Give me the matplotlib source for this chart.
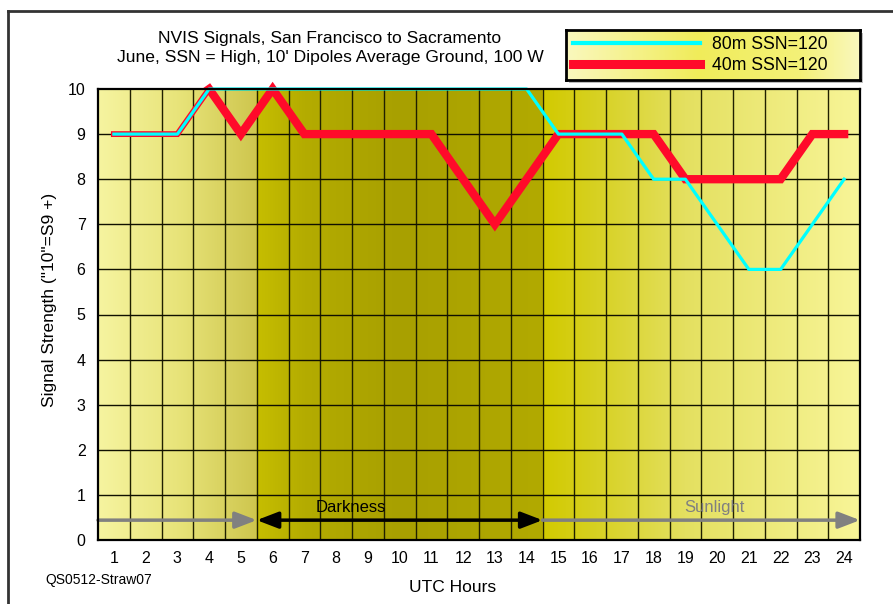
import numpy as np
import matplotlib
matplotlib.use("Agg")
import matplotlib.pyplot as plt
from matplotlib.patches import Rectangle
from matplotlib.lines import Line2D

plt.rcParams['font.family'] = ['Liberation Sans', 'DejaVu Sans']

hours = list(range(1, 25))
sig_80m = [9, 9, 9, 10, 10, 10, 10, 10, 10, 10, 10, 10, 10, 10, 9, 9, 9, 8, 8, 7, 6, 6, 7, 8]
sig_40m = [9, 9, 9, 10, 9, 10, 9, 9, 9, 9, 9, 8, 7, 8, 9, 9, 9, 9, 8, 8, 8, 8, 9, 9]
label_80m = "80m SSN=120"
label_40m = "40m SSN=120"
dark_start, dark_end = 5.5, 14.5
title = "NVIS Signals, San Francisco to Sacramento\nJune, SSN = High, 10' Dipoles Average Ground, 100 W"

W, H = 893, 604
fig = plt.figure(figsize=(W / 100, H / 100), dpi=100)
fig.patch.set_facecolor('white')

ax = fig.add_axes([98 / W, 1 - 540 / H, (860 - 98) / W, (540 - 89) / H])
ax.set_xlim(0.5, 24.5)
ax.set_ylim(0, 10)

# background gradient
stops_x = [0.5, 3.0, 5.499, 5.501, 7.0, 10.0, 14.499, 14.501, 16.0, 19.0, 24.5]
stops_c = np.array([
    (246, 244, 160), (232, 228, 122), (206, 198, 78),
    (198, 190, 0), (180, 172, 0), (168, 160, 0), (178, 170, 0),
    (210, 202, 0), (214, 208, 30), (228, 224, 96), (248, 245, 152)]) / 255.0
xs = np.linspace(0.5, 24.5, 1200)
img = np.stack([np.interp(xs, stops_x, stops_c[:, i]) for i in range(3)], axis=-1)
img = img[np.newaxis, :, :]
ax.imshow(img, extent=[0.5, 24.5, 0, 10], aspect='auto', zorder=0, interpolation='bilinear')

# grid
for xv in np.arange(1.5, 24.5, 1.0):
    ax.axvline(xv, color='#202000', lw=1.0, zorder=1)
for yv in range(1, 10):
    ax.axhline(yv, color='#101000', lw=1.0, zorder=1)

# arrows
ay = 0.44
ax.annotate('', xy=(dark_start, ay), xytext=(0.5, ay),
            arrowprops=dict(arrowstyle='-|>,head_length=1.3,head_width=0.5', color='#808080', lw=2.5,
                            shrinkA=0, shrinkB=0), zorder=3)
ax.annotate('', xy=(dark_end, ay), xytext=(dark_start, ay),
            arrowprops=dict(arrowstyle='<|-|>,head_length=1.3,head_width=0.5', color='#000000', lw=2.5,
                            shrinkA=0, shrinkB=0), zorder=3)
ax.annotate('', xy=(24.5, ay), xytext=(dark_end, ay),
            arrowprops=dict(arrowstyle='-|>,head_length=1.3,head_width=0.5', color='#808080', lw=2.5,
                            shrinkA=0, shrinkB=0), zorder=3)
ax.text(8.47, 0.71, "Darkness", ha='center', va='center', fontsize=12, color='#000000', zorder=4)
ax.text(19.93, 0.71, "Sunlight", ha='center', va='center', fontsize=12, color='#808080', zorder=4)

# data lines
ax.plot(hours[:4], sig_40m[:4], color='#ff0a2a', lw=4.2, solid_joinstyle='miter', clip_on=False, zorder=5)
ax.plot(hours[3:], sig_40m[3:], color='#ff0a2a', lw=6.0, solid_joinstyle='miter', clip_on=False, zorder=5)
ax.plot(hours, sig_80m, color='#00ffff', lw=2.3, clip_on=False, zorder=6)

ax.set_xticks(hours)
ax.set_xticklabels([str(h) for h in hours], fontsize=11.5)
ax.set_yticks(range(0, 11))
ax.set_yticklabels([str(v) for v in range(0, 11)], fontsize=11.5)
ax.tick_params(length=0)
ax.tick_params(axis='x', pad=8)
ax.tick_params(axis='y', pad=9)
for s in ax.spines.values():
    s.set_linewidth(1.6)
    s.set_color('black')
    s.set_zorder(7)

fig.text(50 / W, 1 - 300 / H, 'Signal Strength ("10"=S9 +)', rotation=90, ha='center', va='center', fontsize=12.5)
fig.text(453 / W, 1 - 587 / H, "UTC Hours", ha='center', va='center', fontsize=12.5)
fig.text(45 / W, 1 - 580 / H, "QS0512-Straw07", ha='left', va='center', fontsize=10)
fig.text(330 / W, 1 - 48 / H, title, ha='center', va='center', fontsize=12.6, linespacing=1.35)

# figure frame (left and top)
fig.add_artist(Line2D([8 / W, 8 / W], [0, 1 - 11 / H], transform=fig.transFigure, color='#333333', lw=2))
fig.add_artist(Line2D([8 / W, 1], [1 - 11 / H, 1 - 11 / H], transform=fig.transFigure, color='#333333', lw=2))

# legend box with gradient and shadow
lx0, ly0, lx1, ly1 = 566, 30, 860, 80
fig.add_artist(Rectangle(((lx0 + 3) / W, 1 - (ly1 + 3) / H), (lx1 - lx0) / W, (ly1 - ly0) / H,
                         transform=fig.transFigure, facecolor='#bdbdbd', edgecolor='none', zorder=1))
lax = fig.add_axes([lx0 / W, 1 - ly1 / H, (lx1 - lx0) / W, (ly1 - ly0) / H], zorder=2)
lstops_x = [0.0, 0.45, 0.8, 1.0]
lstops_c = np.array([(250, 248, 190), (240, 236, 90), (244, 241, 120), (250, 248, 190)]) / 255.0
lxs = np.linspace(0, 1, 400)
limg = np.stack([np.interp(lxs, lstops_x, lstops_c[:, i]) for i in range(3)], axis=-1)[np.newaxis]
lax.imshow(limg, extent=[0, 1, 0, 1], aspect='auto', interpolation='bilinear')
lax.set_xlim(0, 1)
lax.set_ylim(0, 1)
lax.set_xticks([])
lax.set_yticks([])
for s in lax.spines.values():
    s.set_linewidth(2)
    s.set_color('black')
handles = [Line2D([], [], color='#00ffff', lw=3.0), Line2D([], [], color='#ff0a2a', lw=6.5)]
leg = lax.legend(handles, [label_80m, label_40m], loc='center left', bbox_to_anchor=(0.0, 0.5),
                 frameon=False, fontsize=12.7, handlelength=7.2, handletextpad=0.7, labelspacing=0.25,
                 borderpad=0.2, borderaxespad=0.2)

fig.savefig("out.png", dpi=100)
